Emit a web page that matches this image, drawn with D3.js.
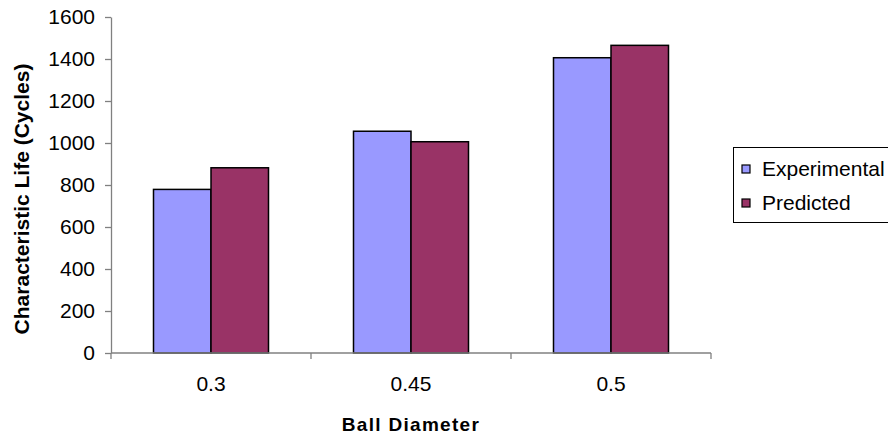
<!DOCTYPE html>
<html>
<head>
<meta charset="utf-8">
<script src="https://cdn.jsdelivr.net/npm/d3@7"></script>
<style>
  html, body { margin: 0; padding: 0; background: #fff; }
  svg { display: block; font-family: "Liberation Sans", Arial, sans-serif; }
</style>
</head>
<body>
<svg id="chart" width="888" height="440"></svg>
<script>
// Ball diameter categories and characteristic life (cycles)
const categories = ["0.3", "0.45", "0.5"];
const seriesNames = ["Experimental", "Predicted"];
const experimental = [779, 1056, 1406];
const predicted = [882, 1006, 1465];
const yTicks = [0, 200, 400, 600, 800, 1000, 1200, 1400, 1600];
const colors = ["#9999FF", "#993366"];

const svg = d3.select("#chart");
const plotLeft = 111, plotRight = 711, plotTop = 17, plotBottom = 353;

const x = d3.scaleBand().domain(categories).range([plotLeft, plotRight]).paddingInner(0).paddingOuter(0);
const inner = d3.scaleBand().domain(seriesNames).range([0, 115]);
const y = d3.scaleLinear().domain([0, 1600]).range([plotBottom, plotTop]);

const rows = categories.map((c, i) => ({ cat: c, values: [experimental[i], predicted[i]] }));

// Bars
const groupOffset = (x.bandwidth() - 115) / 2;
const groups = svg.append("g").selectAll("g").data(rows).join("g")
  .attr("transform", d => `translate(${x(d.cat) + groupOffset},0)`);
groups.selectAll("rect").data(d => d.values.map((v, j) => ({ name: seriesNames[j], v, j })))
  .join("rect")
  .attr("x", d => inner(d.name))
  .attr("y", d => y(d.v))
  .attr("width", inner.bandwidth())
  .attr("height", d => y(0) - y(d.v))
  .attr("fill", d => colors[d.j])
  .attr("stroke", "#000")
  .attr("stroke-width", 1.5);

// Y axis
const yAxis = d3.axisLeft(y).tickValues(yTicks).tickFormat(d3.format("d"))
  .tickSize(6).tickPadding(10).tickSizeOuter(0);
const gy = svg.append("g").attr("transform", `translate(${plotLeft},0)`).call(yAxis);
gy.select(".domain").attr("stroke", "#808080").attr("stroke-width", 1.3);
gy.selectAll(".tick line").attr("stroke", "#808080").attr("stroke-width", 1.3);
gy.selectAll(".tick text").attr("font-size", 21).attr("fill", "#000")
  .attr("font-family", "'Liberation Sans', Arial, sans-serif");

// X axis: baseline with ticks at category boundaries
const gx = svg.append("g").attr("transform", `translate(0,${plotBottom})`);
gx.append("line").attr("x1", plotLeft).attr("x2", plotRight).attr("y1", 0).attr("y2", 0)
  .attr("stroke", "#808080").attr("stroke-width", 1.3);
const boundaries = categories.map(c => x(c)).concat([x(categories[categories.length - 1]) + x.bandwidth()]);
gx.selectAll("line.tk").data(boundaries).join("line").attr("class", "tk")
  .attr("x1", d => d).attr("x2", d => d).attr("y1", 0).attr("y2", 6)
  .attr("stroke", "#808080").attr("stroke-width", 1.3);
gx.selectAll("text").data(categories).join("text")
  .attr("x", d => x(d) + x.bandwidth() / 2)
  .attr("y", 38)
  .attr("text-anchor", "middle")
  .attr("font-size", 21)
  .text(d => d);

// Axis titles
svg.append("text")
  .attr("x", 411).attr("y", 431)
  .attr("text-anchor", "middle")
  .attr("font-size", 19).attr("font-weight", "bold")
  .attr("letter-spacing", 1.3)
  .text("Ball Diameter");
svg.append("text")
  .attr("transform", "translate(29,199) rotate(-90)")
  .attr("text-anchor", "middle")
  .attr("font-size", 21).attr("font-weight", "bold")
  .text("Characteristic Life (Cycles)");

// Legend
const lg = svg.append("g").attr("transform", "translate(733,147)");
lg.append("rect").attr("x", 0.5).attr("y", 0.5).attr("width", 160).attr("height", 75)
  .attr("fill", "#fff").attr("stroke", "#000").attr("stroke-width", 1);
const items = lg.selectAll("g.item").data(seriesNames).join("g").attr("class", "item")
  .attr("transform", (d, i) => `translate(0,${22 + i * 34})`);
items.append("rect").attr("x", 9).attr("y", -4).attr("width", 8).attr("height", 8)
  .attr("fill", (d, i) => colors[i]).attr("stroke", "#000").attr("stroke-width", 1.2);
items.append("text").attr("x", 29).attr("y", 7).attr("font-size", 21).text(d => d);
</script>
</body>
</html>
